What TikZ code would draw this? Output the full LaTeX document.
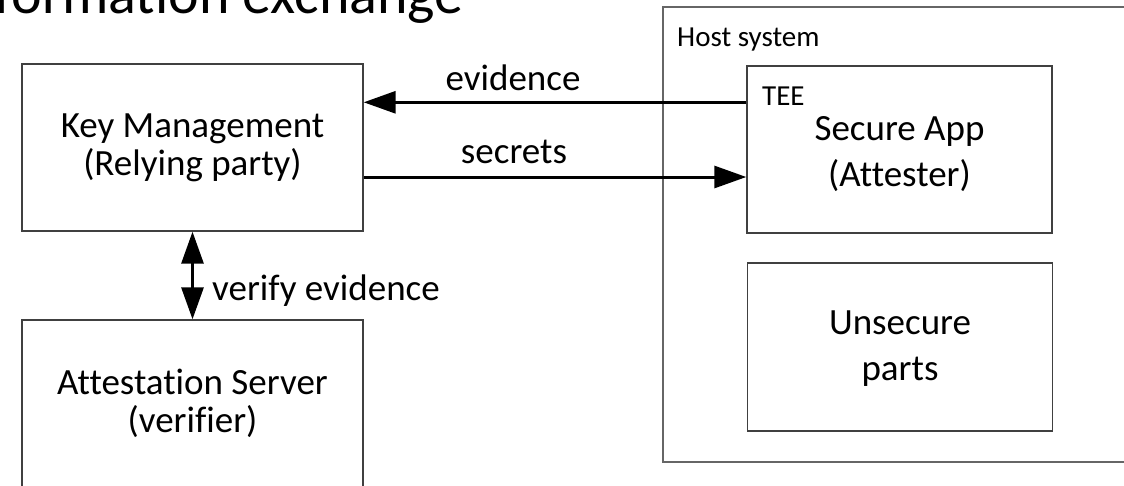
\documentclass[tikz,border=0pt]{standalone}
\usepackage{fontspec}
\setmainfont{Carlito}[Ligatures={NoCommon}]
\usetikzlibrary{arrows.meta,calc}

\tikzset{
  panel/.style={draw=black!75, line width=1.4pt, inner sep=0pt, align=center,
    font=\fontsize{37}{38}\selectfont},
  frame/.style={draw=black!75, line width=1.4pt, inner sep=0pt},
  widetext/.style={inner sep=0pt, align=center, font=\fontsize{37}{46}\selectfont},
  hostbox/.style={draw=black!60, line width=1.4pt, inner sep=0pt},
  flow/.style={line width=3pt, -{Triangle[length=32pt,width=22pt]}},
  twoway/.style={line width=3pt, {Triangle[length=32pt,width=22pt]}-{Triangle[length=32pt,width=22pt]}},
  tag/.style={inner sep=0pt, font=\fontsize{37}{38}\selectfont},
  smalltag/.style={inner sep=0pt, font=\fontsize{29}{30}\selectfont},
}

\begin{document}
\begin{tikzpicture}[x=1pt, y=-1pt]
  \clip (0,0) rectangle (1124,485);

  % heading, running off the top edge
  \node[inner sep=0pt, anchor=base west, font=\fontsize{58}{60}\selectfont]
    (heading) at (-50,13) {Information exchange};

  % host machine with its trusted and untrusted parts
  \node[hostbox, minimum width=477pt, minimum height=455pt] (host) at (901.5,234.5) {};
  \node[smalltag, anchor=base west] (hostlabel) at (677,46) {Host system};

  \node[frame, minimum width=305pt, minimum height=167pt] (tee) at (899.5,149.5) {};
  \node[widetext] (teetext) at ([yshift=-5pt]tee.center) {Secure App\\(Attester)};
  \node[smalltag, anchor=base west] (teelabel) at (762,105.5) {TEE};

  \node[frame, minimum width=305pt, minimum height=168pt] (unsec) at (900,347) {};
  \node[widetext] (unsectext) at ([yshift=-2pt]unsec.center) {Unsecure\\parts};

  % relying party and verifier
  \node[panel, minimum width=341pt, minimum height=167pt] (km) at (192.5,147.5)
    {Key Management\\(Relying party)};
  \node[panel, minimum width=341pt, minimum height=167pt] (att) at (192.5,403.5)
    {Attestation Server\\(verifier)};

  % message flows
  \coordinate (evsrc) at ([yshift=-37pt]tee.north west);
  \draw[flow] (evsrc) -- (evsrc -| km.east);
  \node[tag, anchor=base] (evlabel) at (513,90) {evidence};

  \coordinate (secsrc) at ([yshift=-29.5pt]km.east);
  \draw[flow] (secsrc) -- (secsrc -| tee.west);
  \node[tag, anchor=base] (seclabel) at (514,163) {secrets};

  \draw[twoway] (km.south) -- (att.north);
  \node[tag, anchor=base west] (verlabel) at (212,300) {verify evidence};
\end{tikzpicture}
\end{document}
